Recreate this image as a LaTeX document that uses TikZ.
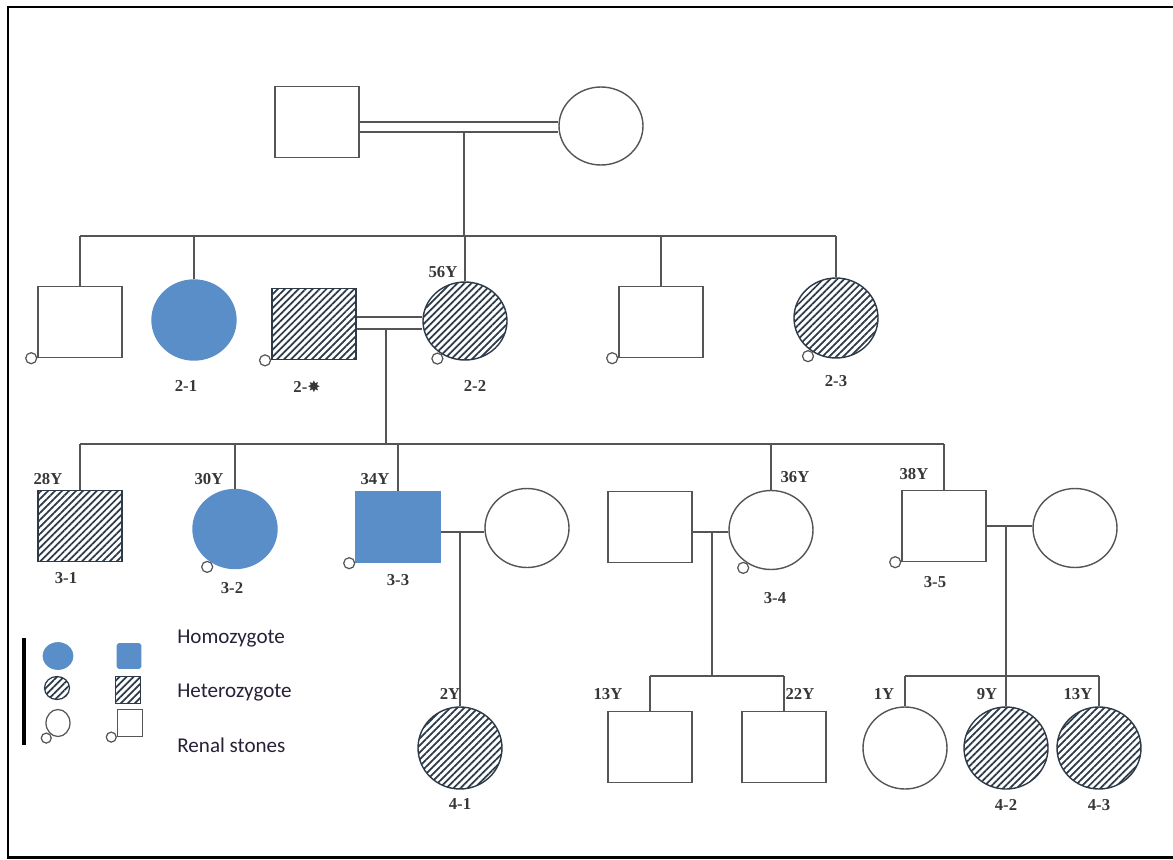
\documentclass[tikz,border=0pt]{standalone}
\usepackage{fontspec}
\setmainfont{Liberation Serif}
\newfontfamily\legfont{Carlito}
\newfontfamily\symfont{DejaVu Sans}
\usepackage{xcolor}
\usepackage{tikz}
\usetikzlibrary{shapes.geometric, positioning, patterns.meta}
\definecolor{pedline}{RGB}{85,85,85}
\definecolor{homoblue}{RGB}{90,142,201}
\definecolor{hatchdark}{RGB}{45,58,72}
\definecolor{labgray}{RGB}{55,55,55}
\definecolor{legdark}{RGB}{40,32,55}
\tikzset{
  male/.style={rectangle, draw=pedline, line width=0.8pt,
    minimum width=1.68cm, minimum height=1.42cm, inner sep=0pt},
  female/.style={ellipse, draw=pedline, line width=0.8pt,
    minimum width=1.68cm, minimum height=1.58cm, inner sep=0pt},
  homo/.style={fill=homoblue, draw=homoblue},
  hetero/.style={draw=hatchdark, pattern color=hatchdark,
    pattern={Lines[angle=45, distance=2.8pt, line width=1pt]}},
  stone/.style={circle, draw=pedline, fill=white, line width=0.7pt,
    minimum size=0.22cm, inner sep=0pt},
  idlab/.style={font=\fontsize{9.5}{11}\selectfont\bfseries, text=labgray, inner sep=1pt},
  agelab/.style={font=\fontsize{9.5}{11}\selectfont\bfseries, text=labgray, inner sep=1pt},
  link/.style={draw=pedline, line width=0.8pt},
  legtext/.style={font=\legfont\fontsize{12}{14}\selectfont, text=legdark,
    anchor=west, inner sep=0pt}
}

\begin{document}
\begin{tikzpicture}[x=0.02cm, y=-0.02cm]
  \useasboundingbox (0,0) rectangle (1173,859);
  \draw[line width=1.7pt] (1180,7) -| (8,857) -- (1180,857);

  % generation I
  \node[male] (g1m) at (317,122) {};
  \node[female, minimum height=1.56cm] (g1f) at (601,126) {};

  % generation II
  \node[male] (g2a) at (80,322) {};
  \node[female, homo, minimum height=1.6cm] (i21) at (194,320) {};
  \node[male, hetero] (i2s) at (314,324) {};
  \node[female, hetero, minimum height=1.56cm] (i22) at (465,321) {};
  \node[male] (g2b) at (661,322) {};
  \node[female, hetero, minimum height=1.6cm] (i23) at (836,318) {};

  % generation III
  \node[male, hetero] (i31) at (80,526) {};
  \node[female, homo] (i32) at (235,529) {};
  \node[male, homo] (i33) at (398,527) {};
  \node[female] (s33) at (527,528) {};
  \node[male] (s34) at (650,527) {};
  \node[female] (i34) at (771,530) {};
  \node[male] (i35) at (944,526) {};
  \node[female] (s35) at (1075,528) {};

  % generation IV
  \node[female, hetero, minimum height=1.64cm] (i41) at (460,748) {};
  \node[male] (c41) at (650,747) {};
  \node[male] (c42) at (784,747) {};
  \node[female, minimum height=1.64cm] (c43) at (905,748) {};
  \node[female, hetero, minimum height=1.64cm] (i42) at (1006,748) {};
  \node[female, hetero, minimum height=1.64cm] (i43) at (1099,748) {};

  % couples and sibships
  \coordinate (m1) at (464,132);
  \coordinate (sib2) at (464,236);
  \coordinate (m2) at (386,329);
  \coordinate (sib3) at (386,444);
  \coordinate (m3) at (460,532);
  \coordinate (m4) at (712,532);
  \coordinate (sib4a) at (712,676);
  \coordinate (m5) at (1006,527);
  \coordinate (sib4b) at (1006,676);

  \draw[link] (g1m.east) -- (g1m.east -| g1f.west);
  \draw[link] ([yshift=-0.2cm]g1m.east) -- ([yshift=-0.2cm]g1m.east -| g1f.west);
  \draw[link] (m1) -- (sib2);
  \draw[link] (g2a.north |- sib2) -- (i23.north |- sib2);
  \foreach \kid in {g2a, i21, i22, g2b, i23}
    \draw[link] (\kid.north) -- (\kid.north |- sib2);

  \draw[link] ([yshift=0.14cm]i2s.east) -- ([yshift=0.14cm]i2s.east -| i22.west);
  \draw[link] ([yshift=-0.1cm]i2s.east) -- ([yshift=-0.1cm]i2s.east -| i22.west);
  \draw[link] (m2) -- (sib3);
  \draw[link] (i31.north |- sib3) -- (i35.north |- sib3);
  \foreach \kid in {i31, i32, i33, i34, i35}
    \draw[link] (\kid.north) -- (\kid.north |- sib3);

  \draw[link] ([yshift=-0.1cm]i33.east) -- ([yshift=-0.1cm]i33.east -| s33.west);
  \draw[link] (m3) -- (i41.north);
  \draw[link] ([yshift=-0.1cm]s34.east) -- ([yshift=-0.1cm]s34.east -| i34.west);
  \draw[link] (m4) -- (sib4a);
  \draw[link] (c41.north |- sib4a) -- (c42.north |- sib4a);
  \foreach \kid in {c41, c42}
    \draw[link] (\kid.north) -- (\kid.north |- sib4a);
  \draw[link] (i35.east) -- (i35.east -| s35.west);
  \draw[link] (m5) -- (sib4b);
  \draw[link] (c43.north |- sib4b) -- (i43.north |- sib4b);
  \foreach \kid in {c43, i42, i43}
    \draw[link] (\kid.north) -- (\kid.north |- sib4b);

  % renal stones
  \node[stone, anchor=east] (st2a) at (g2a.south west) {};
  \node[stone, anchor=east] (st2s) at (i2s.south west) {};
  \node[stone, anchor=north east] (st22) at (i22.235) {};
  \node[stone, anchor=east] (st2b) at (g2b.south west) {};
  \node[stone, anchor=north east] (st23) at (i23.235) {};
  \node[stone, anchor=north east] (st32) at (i32.235) {};
  \node[stone, anchor=east] (st33) at (i33.south west) {};
  \node[stone, anchor=north east] (st34) at (i34.235) {};
  \node[stone, anchor=east] (st35) at (i35.south west) {};

  % ids
  \node[idlab, below=0.35cm of i21, xshift=-0.16cm] (l21) {2-1};
  \node[idlab, below=0.37cm of i2s, xshift=-0.14cm] (l2s) {2-{\symfont\small ✸}};
  \node[idlab, below=0.35cm of i22, xshift=0.2cm] (l22) {2-2};
  \node[idlab, below=0.3cm of i23] (l23) {2-3};
  \node[idlab, below=0.17cm of i31, xshift=-0.28cm] (l31) {3-1};
  \node[idlab, below=0.23cm of i32, xshift=-0.06cm] (l32) {3-2};
  \node[idlab, below=0.18cm of i33] (l33) {3-3};
  \node[idlab, below=0.41cm of i34, xshift=0.08cm] (l34) {3-4};
  \node[idlab, below=0.25cm of i35, xshift=-0.18cm] (l35) {3-5};
  \node[idlab, below=0.13cm of i41] (l41) {4-1};
  \node[idlab, below=0.15cm of i42] (l42) {4-2};
  \node[idlab, below=0.15cm of i43] (l43) {4-3};

  % ages
  \node[agelab] (a22) at (443,272) {56Y};
  \node[agelab] (a31) at (48,479) {28Y};
  \node[agelab] (a32) at (209,479) {30Y};
  \node[agelab] (a33) at (375,479) {34Y};
  \node[agelab] (a34) at (795,477) {36Y};
  \node[agelab] (a35) at (914,474) {38Y};
  \node[agelab] (a41) at (450,694) {2Y};
  \node[agelab] (ac41) at (608,694) {13Y};
  \node[agelab] (ac42) at (800,694) {22Y};
  \node[agelab] (ac43) at (884,694) {1Y};
  \node[agelab] (a42) at (987,694) {9Y};
  \node[agelab] (a43) at (1078,694) {13Y};

  % legend
  \draw[line width=2.3pt] (24,638) -- (24,745);
  \node[ellipse, homo, minimum width=0.6cm, minimum height=0.54cm, inner sep=0pt] (lhc) at (58,656) {};
  \node[rectangle, homo, rounded corners=1pt, minimum width=0.48cm, minimum height=0.5cm, inner sep=0pt] (lhs) at (129,656) {};
  \node[ellipse, hetero, line width=0.7pt, minimum width=0.5cm, minimum height=0.46cm, inner sep=0pt] (lec) at (57,688) {};
  \node[rectangle, hetero, line width=0.7pt, minimum width=0.5cm, minimum height=0.54cm, inner sep=0pt] (les) at (128,690) {};
  \node[ellipse, draw=pedline, line width=0.7pt, minimum width=0.48cm, minimum height=0.54cm, inner sep=0pt] (loc) at (58,723) {};
  \node[rectangle, draw=pedline, line width=0.7pt, minimum width=0.5cm, minimum height=0.54cm, inner sep=0pt] (los) at (130,723) {};
  \node[stone, minimum size=0.2cm, anchor=north east] (lst1) at (loc.235) {};
  \node[stone, minimum size=0.2cm, anchor=east] (lst2) at (los.south west) {};
  \node[legtext] (t1) at (177,639) {Homozygote};
  \node[legtext] (t2) at (177,693) {Heterozygote};
  \node[legtext] (t3) at (177,745) {Renal stones};
\end{tikzpicture}
\end{document}
